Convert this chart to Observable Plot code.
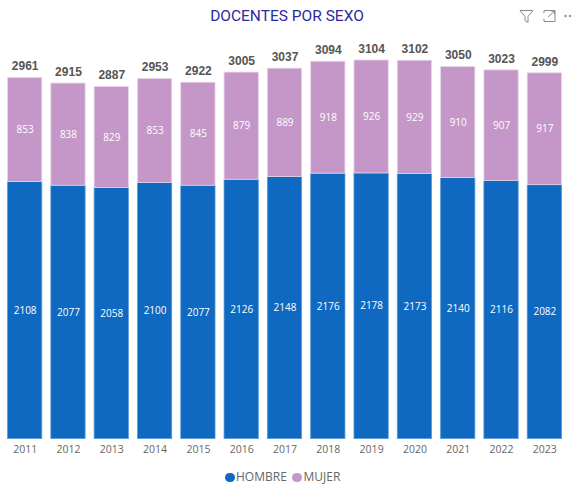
<!DOCTYPE html>
<html><head><meta charset="utf-8">
<script src="https://cdn.jsdelivr.net/npm/d3@7"></script>
<script src="https://cdn.jsdelivr.net/npm/@observablehq/plot@0.6"></script>
<style>
html,body{margin:0;padding:0;background:#fff;overflow:hidden}
#wrap{position:relative;width:576px;height:487px}
#title{height:36px;text-align:center;font:400 15.5px/33px Roboto,sans-serif;color:#2f2a9c;margin-left:-2px}
#chart svg{display:block}
#legend{position:absolute;left:0;top:468px;width:576px;height:18px;font:12px/18px "Open Sans",sans-serif;color:#666}
#legend span{position:absolute;top:0}
#legend i{position:absolute;top:4.5px;width:9.5px;height:9.5px;border-radius:50%}
#icons{position:absolute;left:518px;top:9px}
</style></head><body>
<div id="wrap">
<div id="title"></div>
<div id="chart"></div>
<div id="legend"></div>
<svg id="icons" width="56" height="16" fill="none" stroke="#8a8a8a" stroke-width="1">
<path d="M2 1.5H15L10 7.5V13.5L7 11.5V7.5Z"/>
<path d="M26 4V1.5H37V12.5H26V10M30 8L36.5 2M33 2H36.5V5.5"/>
<circle cx="47.5" cy="7" r=".8" fill="#8a8a8a"/><circle cx="52" cy="7" r=".8" fill="#8a8a8a"/>
</svg>
</div>
<script>
const titleText = "DOCENTES POR SEXO";
const years = ["2011","2012","2013","2014","2015","2016","2017","2018","2019","2020","2021","2022","2023"];
const hombre = [2108,2077,2058,2100,2077,2126,2148,2176,2178,2173,2140,2116,2082];
const mujer = [853,838,829,853,845,879,889,918,926,929,910,907,917];
const totals = [2961,2915,2887,2953,2922,3005,3037,3094,3104,3102,3050,3023,2999];
const seriesNames = ["HOMBRE","MUJER"];
const seriesColors = ["#0f69c0","#c497c8"];
const seriesStrokes = ["#5f9bd6","#e9d6ea"];

document.getElementById("title").textContent = titleText;

const rows = [
  ...years.map((year,i)=>({year,sexo:seriesNames[0],value:hombre[i]})),
  ...years.map((year,i)=>({year,sexo:seriesNames[1],value:mujer[i]}))
];
const totalRows = years.map((year,i)=>({year,total:totals[i]}));

const plot = Plot.plot({
  width:576, height:424,
  marginLeft:3, marginRight:10, marginTop:24, marginBottom:21.4,
  style:{background:"transparent"},
  x:{domain:years,paddingInner:.208,paddingOuter:.104,round:false,label:null},
  y:{domain:[0,3104],axis:null},
  color:{domain:seriesNames,range:seriesColors},
  marks:[
    Plot.barY(rows,{x:"year",y:"value",fill:"sexo",stroke:d=>seriesStrokes[seriesNames.indexOf(d.sexo)],strokeWidth:.8}),
    Plot.text(rows,Plot.stackY({x:"year",y:"value",z:"sexo",text:d=>String(d.value),fill:"#fff",fontSize:10,fontFamily:"Open Sans"})),
    Plot.text(totalRows,{x:"year",y:"total",text:d=>String(d.total),dy:-11.5,fill:"#555",fontSize:12,fontWeight:"bold",fontFamily:"Liberation Sans"}),
    Plot.axisX({tickSize:0,tickPadding:6,fontSize:10.5,fontFamily:"Open Sans",color:"#666",label:null})
  ]
});
document.getElementById("chart").appendChild(plot);

const legend = document.getElementById("legend");
const lx = [[225,236],[292,303.5]];
seriesNames.forEach((n,i)=>{
  const dot=document.createElement("i");
  dot.style.left=lx[i][0]+"px"; dot.style.background=seriesColors[i];
  legend.appendChild(dot);
  const s=document.createElement("span");
  s.style.left=lx[i][1]+"px"; s.textContent=n;
  legend.appendChild(s);
});
</script>
</body></html>
